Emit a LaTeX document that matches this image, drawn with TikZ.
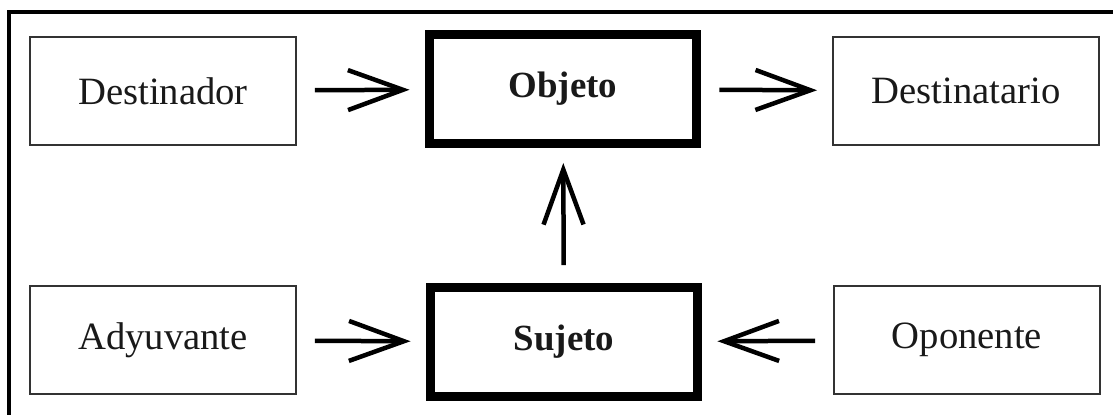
\documentclass[tikz,border=0pt]{standalone}
\usepackage{fontspec}
\setmainfont{Liberation Serif}
\usetikzlibrary{arrows.meta}
\tikzstyle{actant} = [rectangle, draw=black!80, line width=0.04cm,
minimum width=5.32cm, minimum height=2.16cm, inner sep=0pt,
font=\fontsize{22}{26}\selectfont, text=black!90]
\tikzstyle{core} = [actant, draw=black, line width=0.18cm,
minimum width=5.36cm, minimum height=2.18cm, font=\fontsize{21}{25}\selectfont\bfseries]
\tikzstyle{rel} = [line width=0.09cm, -{Straight Barb[length=1.1cm, width=0.8cm]},
shorten <=0.36cm, shorten >=0.3cm]
\tikzstyle{frame} = [line width=0.07cm]

\begin{document}
\begin{tikzpicture}[x=0.02cm, y=-0.02cm]
    \useasboundingbox (0,0) rectangle (1113,414);
    \draw[frame] (9,420) -- (9,12) -- (1120,12);
    % upper row
    \node[actant](dest) at (163,91) {Destinador};
    \node[core](obj) at (563,89) {Objeto};
    \node[actant](dnat) at (966,91) {Destinatario};
    % lower row
    \node[actant](ady) at (163,340) {Adyuvante};
    \node[core](suj) at (564,342) {Sujeto};
    \node[actant](opo) at (967,340) {Oponente};
    \draw[rel] (dest) -- (obj);
    \draw[rel] (obj) -- (dnat);
    \draw[rel] (ady) -- (suj);
    \draw[rel] (opo) -- (suj);
    \draw[rel] (suj) -- (obj);
\end{tikzpicture}
\end{document}
